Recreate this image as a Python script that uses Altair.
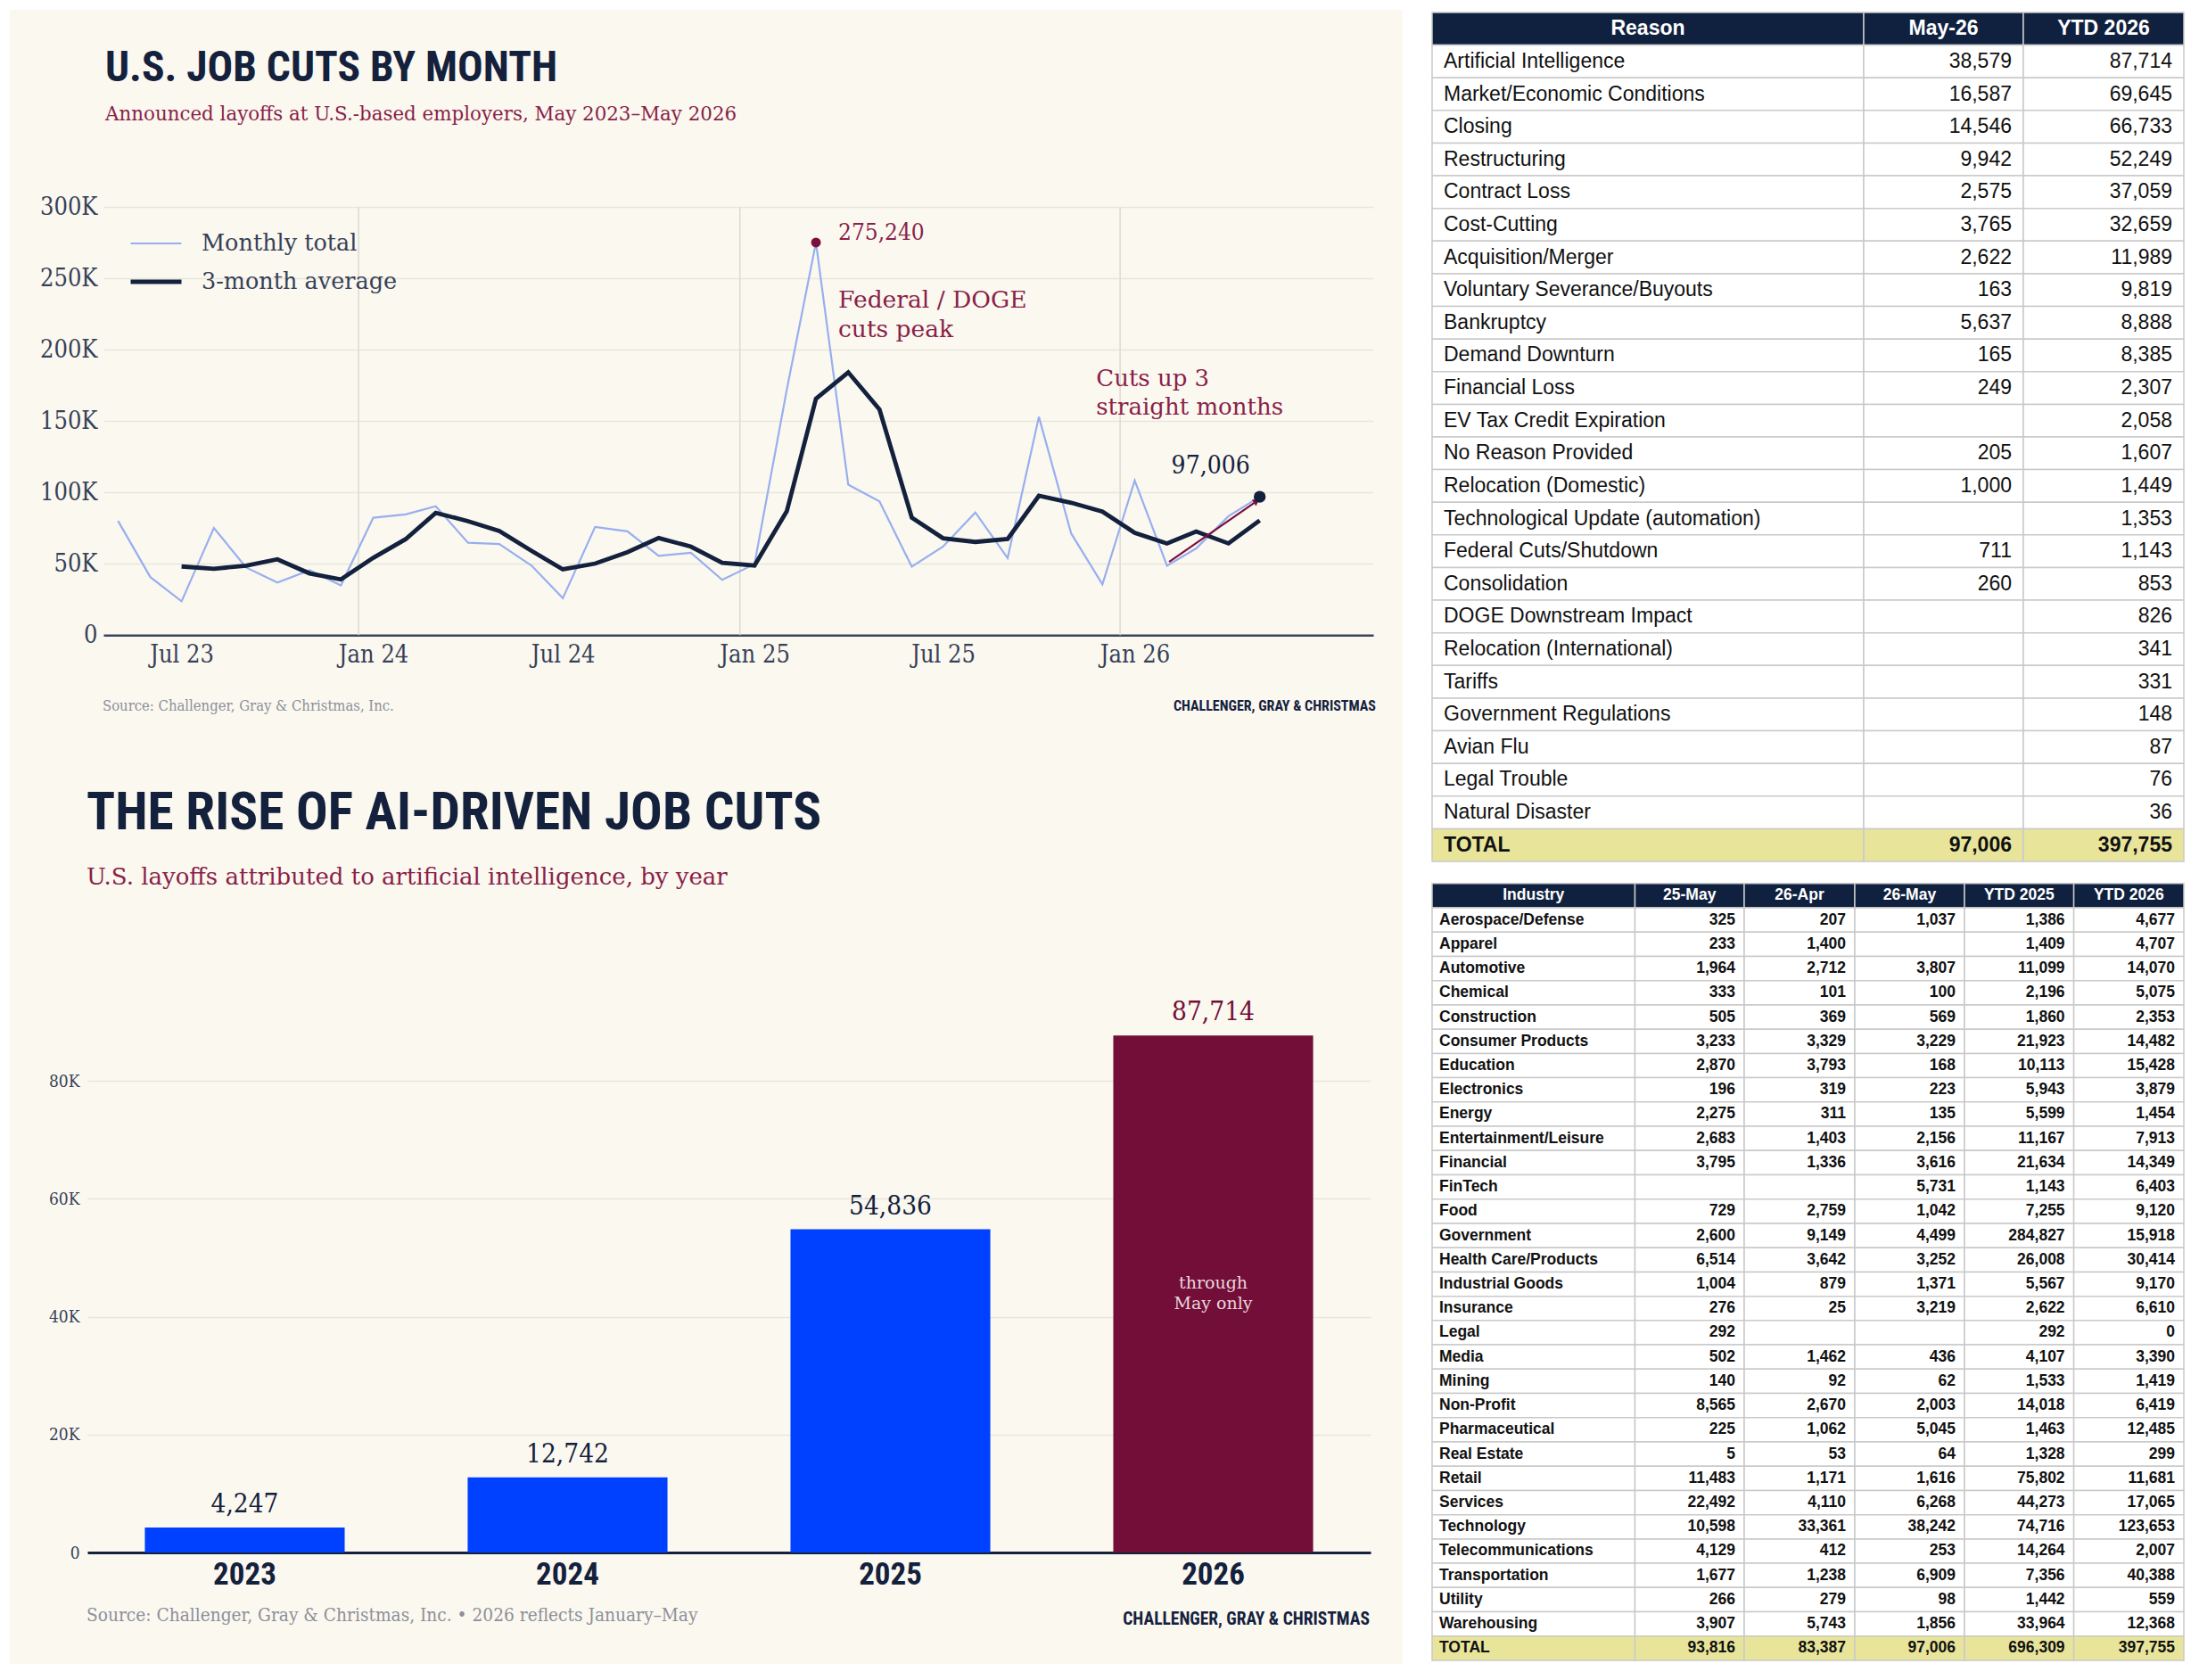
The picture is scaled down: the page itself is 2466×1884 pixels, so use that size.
import altair as alt
import pandas as pd

# ---------------------------------------------------------------- data
# Announced job cuts per month, May 2023 - May 2026
MONTHLY_TOTAL = [
    80089, 40709, 23697, 75151, 47457, 36836, 45510, 34817,
    82307, 84638, 90309, 64789, 63816, 48786, 25885, 75891,
    72821, 55597, 57727, 38792,
    49795, 172017, 275240, 105441, 93816, 47999, 62075, 85979,
    54064, 153074, 71321, 35553,
    108435, 48700, 60800, 83387, 97006,
]
# 3-month average, July 2023 - May 2026
THREE_MONTH_AVG = [
    48165, 46519, 48768, 53148, 43268, 39054,
    54211, 67254, 85751, 79912, 72971, 59130, 46162, 50187,
    58199, 68103, 62048, 50705,
    48771, 86868, 165684, 184233, 158166, 82419, 67963, 65351,
    67373, 97706, 92820, 86649,
    71770, 64229, 72645, 64296, 80398,
]
SERIES = ["Monthly total", "3-month average"]
TICK_MONTHS = [(2023, 7), (2024, 1), (2024, 7), (2025, 1), (2025, 7), (2026, 1)]
GRID_YEARS = [2024, 2025, 2026]

PEAK = {"date": "2025-03-15T00:00:00", "value": 275240}
LATEST = {"date": "2026-05-15T00:00:00", "value": 97006}
ARROW = {"x0": "2026-02-17T00:00:00", "y0": 51400, "x1": "2026-05-12T00:00:00", "y1": 93900}
DOGE_NOTE = {"date": "2025-03-15T00:00:00", "value": 229600,
             "note": ["Federal / DOGE", "cuts peak"]}
STREAK_NOTE = {"date": "2025-12-09T00:00:00", "value": 174600,
               "note": ["Cuts up 3", "straight months"]}

# AI-attributed layoffs by year
AI_YEARS = ["2023", "2024", "2025", "2026"]
AI_CUTS = [4247, 12742, 54836, 87714]

# Job cuts by reason
REASONS = [
    "Artificial Intelligence", "Market/Economic Conditions", "Closing", "Restructuring",
    "Contract Loss", "Cost-Cutting", "Acquisition/Merger", "Voluntary Severance/Buyouts",
    "Bankruptcy", "Demand Downturn", "Financial Loss", "EV Tax Credit Expiration",
    "No Reason Provided", "Relocation (Domestic)", "Technological Update (automation)",
    "Federal Cuts/Shutdown", "Consolidation", "DOGE Downstream Impact",
    "Relocation (International)", "Tariffs", "Government Regulations", "Avian Flu",
    "Legal Trouble", "Natural Disaster",
]
REASON_MAY26 = [38579, 16587, 14546, 9942, 2575, 3765, 2622, 163, 5637, 165, 249, None,
                205, 1000, None, 711, 260, None, None, None, None, None, None, None]
REASON_YTD26 = [87714, 69645, 66733, 52249, 37059, 32659, 11989, 9819, 8888, 8385, 2307,
                2058, 1607, 1449, 1353, 1143, 853, 826, 341, 331, 148, 87, 76, 36]
REASON_HEADER = ["Reason", "May-26", "YTD 2026"]
REASON_TOTAL = ["TOTAL", 97006, 397755]

# Job cuts by industry
INDUSTRIES = [
    "Aerospace/Defense", "Apparel", "Automotive", "Chemical", "Construction",
    "Consumer Products", "Education", "Electronics", "Energy", "Entertainment/Leisure",
    "Financial", "FinTech", "Food", "Government", "Health Care/Products",
    "Industrial Goods", "Insurance", "Legal", "Media", "Mining", "Non-Profit",
    "Pharmaceutical", "Real Estate", "Retail", "Services", "Technology",
    "Telecommunications", "Transportation", "Utility", "Warehousing",
]
IND_MAY25 = [325, 233, 1964, 333, 505, 3233, 2870, 196, 2275, 2683, 3795, None, 729, 2600,
             6514, 1004, 276, 292, 502, 140, 8565, 225, 5, 11483, 22492, 10598, 4129, 1677,
             266, 3907]
IND_APR26 = [207, 1400, 2712, 101, 369, 3329, 3793, 319, 311, 1403, 1336, None, 2759, 9149,
             3642, 879, 25, None, 1462, 92, 2670, 1062, 53, 1171, 4110, 33361, 412, 1238,
             279, 5743]
IND_MAY26 = [1037, None, 3807, 100, 569, 3229, 168, 223, 135, 2156, 3616, 5731, 1042, 4499,
             3252, 1371, 3219, None, 436, 62, 2003, 5045, 64, 1616, 6268, 38242, 253, 6909,
             98, 1856]
IND_YTD25 = [1386, 1409, 11099, 2196, 1860, 21923, 10113, 5943, 5599, 11167, 21634, 1143,
             7255, 284827, 26008, 5567, 2622, 292, 4107, 1533, 14018, 1463, 1328, 75802,
             44273, 74716, 14264, 7356, 1442, 33964]
IND_YTD26 = [4677, 4707, 14070, 5075, 2353, 14482, 15428, 3879, 1454, 7913, 14349, 6403,
             9120, 15918, 30414, 9170, 6610, 0, 3390, 1419, 6419, 12485, 299, 11681, 17065,
             123653, 2007, 40388, 559, 12368]
IND_HEADER = ["Industry", "25-May", "26-Apr", "26-May", "YTD 2025", "YTD 2026"]
IND_TOTAL = ["TOTAL", 93816, 83387, 97006, 696309, 397755]

# ---------------------------------------------------------------- styles
SERIF = "'DejaVu Serif', serif"
SERIF_NUM = "'DejaVu Serif Condensed', 'DejaVu Serif', serif"
NARROW = ("'Noto Sans ExtraCondensed', 'Noto Sans Condensed', 'Roboto Condensed', "
          "'Liberation Sans Narrow', 'DejaVu Sans Condensed', sans-serif")
SANS = "'Liberation Sans', Arial, sans-serif"

NAVY = "#14213D"
CRIMSON = "#8A1F48"
DOT_RED = "#7B0F3B"
BAR_RED = "#720E37"
BLUE = "#0040FF"
LIGHT_BLUE = "#98AFEF"
CREAM = "#FBF8F0"
GRID = "#E8E5DC"
VGRID = "#DCDAD2"
AXIS = "#3A475E"
LABEL = "#364157"
SOURCE = "#8C9099"
TABLE_NAVY = "#10213F"
TOTAL_FILL = "#E8E59B"
CELL_LINE = "#C9C9C9"

# layout (pixels)
LEFT_W = 1562
LINE_H = 829
BAR_H = 1026
RIGHT_W = 893
REASON_H = 967
IND_H = 888
REASON_COL_W = [484, 179, 180]
IND_COL_W = [227.5, 122.5, 124, 123, 122.6, 123.4]


def one_text(text, x, y, **kw):
    """A single piece of free text placed in a view."""
    return alt.Chart(pd.DataFrame({"t": [text]})).mark_text(**kw).encode(
        text="t:N", x=alt.value(x), y=alt.value(y)
    )


# ---------------------------------------------------------------- line chart
dates = pd.date_range("2023-05-15", periods=len(MONTHLY_TOTAL), freq=pd.DateOffset(months=1))
date_str = [d.strftime("%Y-%m-%dT%H:%M:%S") for d in dates]
lines_df = pd.concat([
    pd.DataFrame({"date": date_str, "value": MONTHLY_TOTAL, "series": SERIES[0]}),
    pd.DataFrame({"date": date_str[len(date_str) - len(THREE_MONTH_AVG):],
                  "value": THREE_MONTH_AVG, "series": SERIES[1]}),
], ignore_index=True)

x_scale = alt.Scale(
    domain=[alt.DateTime(year=2023, month=5, date=1), alt.DateTime(year=2026, month=9, date=1)],
    range=[105, 1529], nice=False,
)
y_scale = alt.Scale(domain=[0, 300000], range=[701.3, 221.3], nice=False)

x_axis = alt.Axis(
    values=[alt.DateTime(year=y, month=m, date=15) for y, m in TICK_MONTHS],
    labelExpr="timeFormat(datum.value, '%b %y')",
    offset=-127.7, domainColor=AXIS, domainWidth=2.5, ticks=False, tickSize=0,
    grid=False, labelPadding=9, labelFont=SERIF_NUM, labelFontSize=27, labelColor=LABEL,
    labelFlush=False, labelOverlap=False,
)
y_axis = alt.Axis(
    values=[0, 50000, 100000, 150000, 200000, 250000, 300000],
    labelExpr="datum.value == 0 ? '0' : format(datum.value / 1000, 'd') + 'K'",
    offset=-105, domain=False, ticks=False, tickSize=0, labelPadding=7,
    labelFont=SERIF_NUM, labelFontSize=27, labelColor=LABEL,
    grid=True, gridColor=GRID, gridWidth=1.5,
)
legend = alt.Legend(
    orient="none", legendX=133, legendY=247, padding=0, symbolType="stroke",
    symbolSize=3249, clipHeight=30, rowPadding=13, labelOffset=20, labelLimit=500,
    labelFont=SERIF, labelFontSize=25.5, labelColor=LABEL,
)
color_enc = alt.Color("series:N", scale=alt.Scale(domain=SERIES, range=[LIGHT_BLUE, NAVY]),
                      legend=legend, title=None)
width_enc = alt.StrokeWidth("series:N", scale=alt.Scale(domain=SERIES, range=[2.2, 4.8]),
                            legend=legend, title=None)

jan_rules = alt.Chart(pd.DataFrame({
    "date": [f"{y}-01-01T00:00:00" for y in GRID_YEARS]
})).mark_rule(color=VGRID, strokeWidth=1.5).encode(
    x=alt.X("date:T", scale=x_scale, axis=x_axis, title=None),
    y=alt.datum(0, scale=y_scale, axis=y_axis, title=None),
    y2=alt.datum(300000),
)

monthly_line = alt.Chart(lines_df).transform_filter(
    alt.datum.series == SERIES[0]
).mark_line(strokeJoin="miter").encode(
    x=alt.X("date:T", title=None), y=alt.Y("value:Q", title=None),
    color=color_enc, strokeWidth=width_enc,
)
avg_line = alt.Chart(lines_df).transform_filter(
    alt.datum.series == SERIES[1]
).mark_line(strokeJoin="miter").encode(
    x=alt.X("date:T", title=None), y=alt.Y("value:Q", title=None),
    color=color_enc, strokeWidth=width_enc,
)

arrow_df = pd.DataFrame([ARROW])
arrow_shaft = alt.Chart(arrow_df).mark_rule(color=DOT_RED, strokeWidth=2.2).encode(
    x=alt.X("x0:T", title=None), x2="x1:T", y=alt.Y("y0:Q", title=None), y2="y1:Q"
)
arrow_head = alt.Chart(arrow_df).mark_point(
    shape="triangle-up", filled=True, color=DOT_RED, opacity=1, size=70, angle=56
).encode(x=alt.X("x1:T", title=None), y=alt.Y("y1:Q", title=None))

peak_df = pd.DataFrame([PEAK])
latest_df = pd.DataFrame([LATEST])
peak_dot = alt.Chart(peak_df).mark_circle(color=DOT_RED, size=120, opacity=1).encode(
    x=alt.X("date:T", title=None), y=alt.Y("value:Q", title=None))
latest_dot = alt.Chart(latest_df).mark_circle(color=NAVY, size=180, opacity=1).encode(
    x=alt.X("date:T", title=None), y=alt.Y("value:Q", title=None))

peak_label = alt.Chart(peak_df).mark_text(
    align="left", baseline="alphabetic", dx=25, dy=-3, font=SERIF_NUM, fontSize=26,
    color=CRIMSON,
).encode(x=alt.X("date:T", title=None), y=alt.Y("value:Q", title=None),
         text=alt.Text("value:Q", format=","))
latest_label = alt.Chart(latest_df).mark_text(
    align="center", baseline="alphabetic", dx=-55, dy=-26, font=SERIF_NUM, fontSize=28,
    color=NAVY,
).encode(x=alt.X("date:T", title=None), y=alt.Y("value:Q", title=None),
         text=alt.Text("value:Q", format=","))

doge_note = alt.Chart(pd.DataFrame([DOGE_NOTE])).mark_text(
    align="left", baseline="alphabetic", dx=25, font=SERIF, fontSize=26.5, lineHeight=33,
    color=CRIMSON,
).encode(x=alt.X("date:T", title=None), y=alt.Y("value:Q", title=None), text="note:N")
streak_note = alt.Chart(pd.DataFrame([STREAK_NOTE])).mark_text(
    align="left", baseline="alphabetic", font=SERIF, fontSize=26, lineHeight=32,
    color=CRIMSON,
).encode(x=alt.X("date:T", title=None), y=alt.Y("value:Q", title=None), text="note:N")

line_chart = alt.layer(
    jan_rules, monthly_line, avg_line, arrow_shaft, arrow_head, peak_dot, latest_dot,
    peak_label, latest_label, doge_note, streak_note,
    one_text("U.S. JOB CUTS BY MONTH", 107, 80, align="left", baseline="alphabetic",
             font=NARROW, fontWeight="bold", fontSize=47.5, color=NAVY),
    one_text("Announced layoffs at U.S.-based employers, May 2023\u2013May 2026", 107, 124,
             align="left", baseline="alphabetic", font=SERIF, fontSize=21.4, color=CRIMSON),
    one_text("Source: Challenger, Gray & Christmas, Inc.", 104, 786, align="left",
             baseline="alphabetic", font=SERIF_NUM, fontSize=16.5, color=SOURCE),
    one_text("CHALLENGER, GRAY & CHRISTMAS", 1532, 786, align="right", baseline="alphabetic",
             font=NARROW, fontWeight="bold", fontSize=16, color=NAVY),
).properties(width=LEFT_W, height=LINE_H, view=alt.ViewBackground(fill=CREAM, strokeWidth=0))

# ---------------------------------------------------------------- bar chart
bars_df = pd.DataFrame({"year": AI_YEARS, "cuts": AI_CUTS})
bx = alt.Scale(domain=AI_YEARS, range=[87, 1526], paddingInner=0.381, paddingOuter=0.178)
by = alt.Scale(domain=[0, 100000], range=[901, 240], nice=False)
bar_fill = alt.Scale(domain=AI_YEARS, range=[BLUE, BLUE, BLUE, BAR_RED])
label_fill = alt.Scale(domain=AI_YEARS, range=[NAVY, NAVY, NAVY, BAR_RED])

bar_x_axis = alt.Axis(
    offset=-125, domainColor=NAVY, domainWidth=3, ticks=False, tickSize=0, labelPadding=7,
    labelFont=NARROW, labelFontWeight="bold", labelFontSize=35, labelColor=NAVY,
    labelAngle=0, grid=False,
)
bar_y_axis = alt.Axis(
    values=[0, 20000, 40000, 60000, 80000],
    labelExpr="datum.value == 0 ? '0' : format(datum.value / 1000, 'd') + 'K'",
    offset=-87, domain=False, ticks=False, tickSize=0, labelPadding=9,
    labelFont=SERIF_NUM, labelFontSize=19, labelColor=LABEL,
    grid=True, gridColor=GRID, gridWidth=1.5,
)

bar_base = alt.Chart(bars_df)
bars = bar_base.mark_bar().encode(
    x=alt.X("year:N", scale=bx, axis=bar_x_axis, title=None, sort=AI_YEARS),
    y=alt.Y("cuts:Q", scale=by, axis=bar_y_axis, title=None),
    fill=alt.Fill("year:N", scale=bar_fill, legend=None),
)
bar_values = bar_base.mark_text(
    baseline="alphabetic", dy=-17, font=SERIF_NUM, fontSize=29.5
).encode(
    x=alt.X("year:N", title=None, sort=AI_YEARS), y=alt.Y("cuts:Q", title=None),
    text=alt.Text("cuts:Q", format=","),
    color=alt.Color("year:N", scale=label_fill, legend=None),
)
bar_note = bar_base.transform_filter(alt.datum.year == AI_YEARS[-1]).transform_calculate(
    mid="datum.cuts / 2"
).mark_text(baseline="middle", dy=-12, font=SERIF, fontSize=19, lineHeight=23,
            color="#EBD6DF").encode(
    x=alt.X("year:N", title=None, sort=AI_YEARS), y=alt.Y("mid:Q", title=None),
    text=alt.value(["through", "May only"]),
)

bar_chart = alt.layer(
    bars, bar_values, bar_note,
    one_text("THE RISE OF AI-DRIVEN JOB CUTS", 86, 90, align="left", baseline="alphabetic",
             font=NARROW, fontWeight="bold", fontSize=59.3, color=NAVY),
    one_text("U.S. layoffs attributed to artificial intelligence, by year", 86, 152,
             align="left", baseline="alphabetic", font=SERIF, fontSize=26, color=CRIMSON),
    one_text("Source: Challenger, Gray & Christmas, Inc.  \u2022  2026 reflects January\u2013May",
             86, 978, align="left", baseline="alphabetic", font=SERIF_NUM, fontSize=20.7,
             color=SOURCE),
    one_text("CHALLENGER, GRAY & CHRISTMAS", 1525, 982, align="right", baseline="alphabetic",
             font=NARROW, fontWeight="bold", fontSize=19.5, color=NAVY),
).resolve_scale(color="independent").properties(
    width=LEFT_W, height=BAR_H, view=alt.ViewBackground(fill=CREAM, strokeWidth=0))


# ---------------------------------------------------------------- tables
def fmt(v):
    if v is None:
        return ""
    if isinstance(v, str):
        return v
    return f"{v:,}"


def table_frame(header, body_rows, total, widths):
    edges = [0]
    for w in widths:
        edges.append(edges[-1] + w)
    rows = [("header", header)] + [("body", r) for r in body_rows] + [("total", total)]
    recs = []
    for i, (kind, cells) in enumerate(rows):
        for j, v in enumerate(cells):
            recs.append({"row": f"r{i:02d}", "col": j, "kind": kind, "text": fmt(v),
                         "x0": edges[j], "x1": edges[j + 1],
                         "xc": (edges[j] + edges[j + 1]) / 2})
    return pd.DataFrame(recs), [f"r{i:02d}" for i in range(len(rows))], edges[-1]


def table_chart(df, row_keys, span, y_range, font_size, body_weight, pad_l, pad_r, w, h):
    xs = alt.Scale(domain=[0, span], range=[33, 876], nice=False, zero=False)
    ys = alt.Scale(domain=row_keys, range=y_range, paddingInner=0, paddingOuter=0)
    base = alt.Chart(df)
    cells = base.mark_rect(stroke=CELL_LINE, strokeWidth=1.5).encode(
        x=alt.X("x0:Q", scale=xs, axis=None), x2="x1:Q",
        y=alt.Y("row:O", scale=ys, axis=None, sort=row_keys),
        fill=alt.Fill("kind:N", scale=alt.Scale(domain=["header", "body", "total"],
                                                range=[TABLE_NAVY, "#FFFFFF", TOTAL_FILL]),
                      legend=None),
    )
    yy = alt.Y("row:O", axis=None, sort=row_keys)
    head = base.transform_filter(alt.datum.kind == "header").mark_text(
        align="center", baseline="middle", font=SANS, fontWeight="bold",
        fontSize=font_size, color="#FFFFFF",
    ).encode(x=alt.X("xc:Q", axis=None), y=yy, text="text:N")
    layers = [cells, head]
    for kind, weight in (("body", body_weight), ("total", "bold")):
        layers.append(base.transform_filter(
            (alt.datum.kind == kind) & (alt.datum.col == 0)
        ).mark_text(
            align="left", baseline="middle", dx=pad_l, font=SANS, fontWeight=weight,
            fontSize=font_size, color="#111111",
        ).encode(x=alt.X("x0:Q", axis=None), y=yy, text="text:N"))
        layers.append(base.transform_filter(
            (alt.datum.kind == kind) & (alt.datum.col > 0)
        ).mark_text(
            align="right", baseline="middle", dx=-pad_r, font=SANS, fontWeight=weight,
            fontSize=font_size, color="#111111",
        ).encode(x=alt.X("x1:Q", axis=None), y=yy, text="text:N"))
    return alt.layer(*layers).properties(
        width=w, height=h, view=alt.ViewBackground(fill="#FFFFFF", strokeWidth=0))


reason_df, reason_keys, reason_span = table_frame(
    REASON_HEADER, list(zip(REASONS, REASON_MAY26, REASON_YTD26)), REASON_TOTAL, REASON_COL_W)
ind_df, ind_keys, ind_span = table_frame(
    IND_HEADER, list(zip(INDUSTRIES, IND_MAY25, IND_APR26, IND_MAY26, IND_YTD25, IND_YTD26)),
    IND_TOTAL, IND_COL_W)

reason_table = table_chart(reason_df, reason_keys, reason_span, [3, 955], 23, "normal",
                           13, 13, RIGHT_W, REASON_H)
industry_table = table_chart(ind_df, ind_keys, ind_span, [12.8, 884], 17.5, "bold",
                             8, 10, RIGHT_W, IND_H)

# ---------------------------------------------------------------- assemble
INDEPENDENT = dict(color="independent", fill="independent", strokeWidth="independent",
                   x="independent", y="independent")
left = alt.vconcat(line_chart, bar_chart, spacing=0, bounds="flush").resolve_scale(
    **INDEPENDENT).resolve_legend(color="independent", strokeWidth="independent")
right = alt.vconcat(reason_table, industry_table, spacing=0, bounds="flush").resolve_scale(
    **INDEPENDENT)
chart = alt.hconcat(left, right, spacing=0).resolve_scale(**INDEPENDENT).properties(
    padding={"left": 11, "top": 11, "right": 0, "bottom": 18},
    background="#FFFFFF",
).configure_view(strokeWidth=0)

chart.save("out.html", embed_options={"renderer": "svg", "actions": False})
